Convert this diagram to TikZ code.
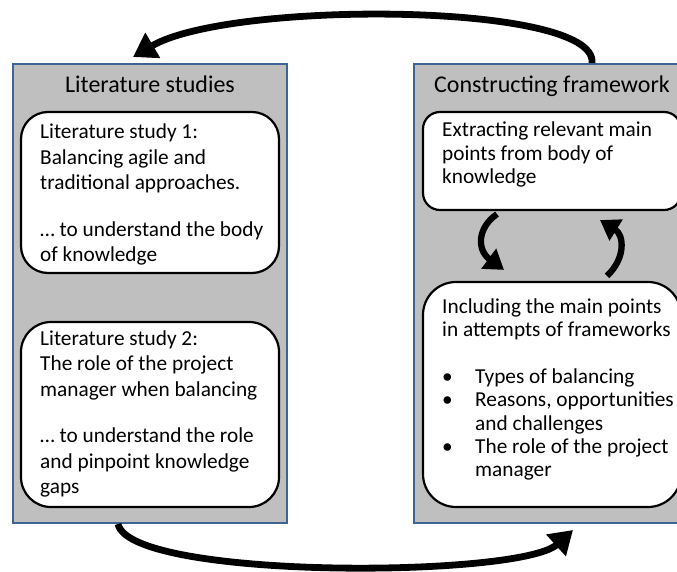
\documentclass[tikz,border=0pt]{standalone}
\usepackage{fontspec}
\setmainfont{Carlito}
\usetikzlibrary{arrows.meta}
\definecolor{panelgray}{RGB}{191,191,191}
\definecolor{panelblue}{RGB}{62,100,150}
\begin{document}
\begin{tikzpicture}[x=1pt,y=-1pt,
  panel/.style={draw=panelblue, line width=2pt, fill=panelgray, inner sep=0pt},
  card/.style={draw=black, line width=2.2pt, fill=white, inner sep=0pt, minimum width=258pt},
  paneltitle/.style={font=\fontsize{24}{29}\selectfont, anchor=base, inner sep=0pt},
  ltxt/.style={font=\fontsize{21.3}{25.5}\selectfont, align=left, anchor=north west, inner sep=0pt},
  rtxt/.style={font=\fontsize{21.3}{23.3}\selectfont, align=left, anchor=north west, inner sep=0pt},
  bigarrow/.style={line width=6.8pt, -{Triangle[length=23pt,width=28pt]}},
  smallarrow/.style={line width=6.3pt, -{Triangle[length=19pt,width=24pt]}}]
\useasboundingbox (0,0) rectangle (677,572);
\clip (0,0) rectangle (677,572);

% panels
\node[panel, minimum width=274pt, minimum height=459pt] (lp) at (150,293.5) {};
\node[panel, minimum width=276pt, minimum height=459pt] (rp) at (552,293.5) {};
\node[paneltitle] (lpt) at (150,92.7) {Literature studies};
\node[paneltitle] (rpt) at (552,92.7) {Constructing framework};

% cards
\node[card, minimum height=161pt, rounded corners=27pt] (b1) at (150,192.5) {};
\node[card, minimum height=185pt, rounded corners=30pt] (b2) at (150,414.5) {};
\node[card, minimum height=98pt, rounded corners=17pt] (b3) at (552,161) {};
\node[card, minimum height=225pt, rounded corners=33pt] (b4) at (552,394.5) {};

% texts
\node[ltxt] (t1) at (40,120.5) {\strut Literature study 1:\\
Balancing agile and\\
traditional approaches.\\[21pt]
… to understand the body\\
of knowledge};
\node[ltxt] (t2) at (40,327) {\strut Literature study 2:\\
The role of the project\\
manager when balancing\\[21pt]
… to understand the role\\
and pinpoint knowledge\\
gaps};
\node[rtxt] (t3) at (442,120.4) {\strut Extracting relevant main\\
points from body of\\
knowledge};
\node[rtxt] (t4) at (442,297) {\strut Including the main points\\
in attempts of frameworks\\[23.3pt]
\makebox[33pt][l]{\textbullet}Types of balancing\\
\makebox[33pt][l]{\textbullet}Reasons, opportunities\\
\hspace*{33pt}and challenges\\
\makebox[33pt][l]{\textbullet}The role of the project\\
\hspace*{33pt}manager};

% arrows between panels
\draw[bigarrow] ([xshift=40pt]rp.north) .. controls (598,2) and (230,0) .. ([xshift=-17pt,yshift=6pt]lp.north);
\draw[bigarrow] ([xshift=-32pt]lp.south) .. controls (130,580) and (520,578) .. ([xshift=21pt,yshift=-6pt]rp.south);

% arrows between cards
\draw[smallarrow] ([xshift=-55pt,yshift=-3pt]b3.south) .. controls (477,228) and (477,250) .. ([xshift=-48pt,yshift=11pt]b4.north);
\draw[smallarrow] ([xshift=55pt,yshift=5pt]b4.north) .. controls (626,258) and (624,235) .. ([xshift=48pt,yshift=-9pt]b3.south);
\end{tikzpicture}
\end{document}
